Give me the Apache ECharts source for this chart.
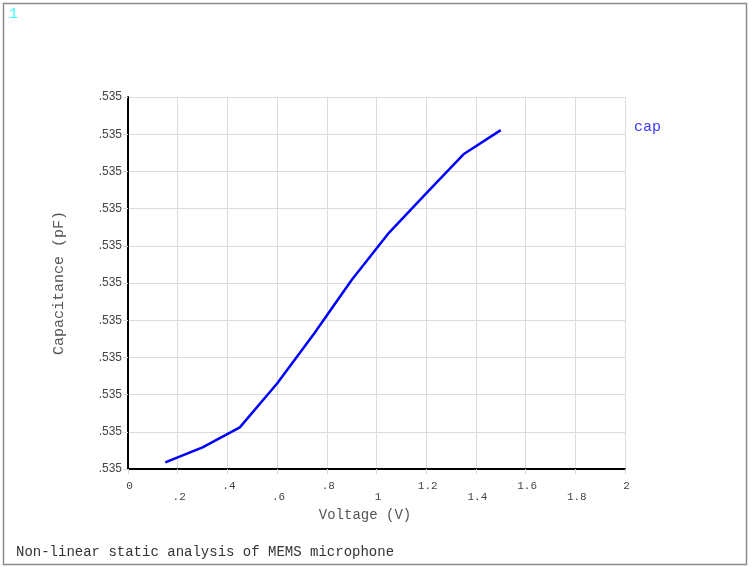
<!DOCTYPE html>
<html>
<head>
<meta charset="utf-8">
<script src="https://cdn.jsdelivr.net/npm/echarts@6/dist/echarts.min.js"></script>
<style>
html,body{margin:0;padding:0;background:#fff;}
#chart{width:754px;height:567px;}
</style>
</head>
<body>
<div id="chart"></div>
<script>
// Voltage (V)
var voltage = [0.15, 0.30, 0.45, 0.60, 0.75, 0.90, 1.05, 1.20, 1.35, 1.50];
// Capacitance (pF) — values read relative to axis range .53500 .. .53510
var capacitance = [0.5350018, 0.5350058, 0.5350112, 0.5350230, 0.5350365, 0.5350508, 0.5350635, 0.5350741, 0.5350846, 0.5350911];
var seriesName = 'cap';
var xTitle = 'Voltage (V)';
var yTitle = 'Capacitance (pF)';
var footer = 'Non-linear static analysis of MEMS microphone';
var windowNumber = '1';

var yMin = 0.53500, yMax = 0.53510, yStep = 0.00001;

function fmtX(v) {
  var s = (Math.round(v * 10) / 10).toString();
  return s.replace(/^0\./, '.');
}

var mono = '"Liberation Mono", "DejaVu Sans Mono", monospace';

var chart = echarts.init(document.getElementById('chart'));
chart.setOption({
  animation: false,
  backgroundColor: '#ffffff',
  grid: { left: 128, right: 129, top: 97, bottom: 98, containLabel: false },
  legend: {
    data: [seriesName],
    left: 624, top: 115,
    icon: 'none', itemWidth: 0, itemHeight: 0,
    textStyle: { color: '#3a3aff', fontFamily: mono, fontSize: 15 }
  },
  xAxis: {
    type: 'value', min: 0, max: 2, interval: 0.2,
    name: xTitle, nameLocation: 'middle', nameGap: 34,
    nameTextStyle: { color: '#555', fontFamily: mono, fontSize: 14, padding: [0, 23, 0, 0] },
    axisLine: { show: true, onZero: false, lineStyle: { color: '#000', width: 2 } },
    axisTick: { show: true, length: 5, lineStyle: { color: '#d8d8d8' } },
    splitLine: { show: true, lineStyle: { color: '#dcdcdc', width: 1 } },
    axisLabel: {
      color: '#444', fontFamily: mono, fontSize: 11, margin: 12, lineHeight: 11,
      padding: [0, 0, 0, 3],
      formatter: function (v, i) { return (i % 2 === 1 ? '\n' : '') + fmtX(v); }
    }
  },
  yAxis: {
    type: 'value', min: yMin, max: yMax, interval: yStep,
    name: yTitle, nameLocation: 'middle', nameGap: 61, nameRotate: 90,
    nameTextStyle: { color: '#555', fontFamily: mono, fontSize: 15 },
    axisLine: { show: true, onZero: false, lineStyle: { color: '#000', width: 2 } },
    axisTick: { show: true, length: 5, lineStyle: { color: '#d8d8d8' } },
    splitLine: { show: true, lineStyle: { color: '#dcdcdc', width: 1 } },
    axisLabel: {
      color: '#444', fontFamily: '"Liberation Sans", Arial, sans-serif', fontSize: 12, margin: 6,
      formatter: function (v) { return v.toFixed(3).replace(/^0\./, '.'); }
    }
  },
  series: [{
    name: seriesName, type: 'line',
    data: voltage.map(function (v, i) { return [v, capacitance[i]]; }),
    showSymbol: false, symbol: 'none',
    lineStyle: { color: '#0000ff', width: 2.5 },
    itemStyle: { color: '#0000ff' }
  }],
  graphic: [
    { type: 'rect', z: -1, shape: { x: 3.5, y: 3.5, width: 743, height: 561 }, style: { fill: 'none', stroke: '#8a8a8a', lineWidth: 1.5 } },
    { type: 'text', x: 9, y: 7, style: { text: windowNumber, fill: '#33ffff', font: '15px ' + mono } },
    { type: 'text', x: 16, y: 545, style: { text: footer, fill: '#333', font: '14px ' + mono } }
  ]
});
</script>
</body>
</html>
